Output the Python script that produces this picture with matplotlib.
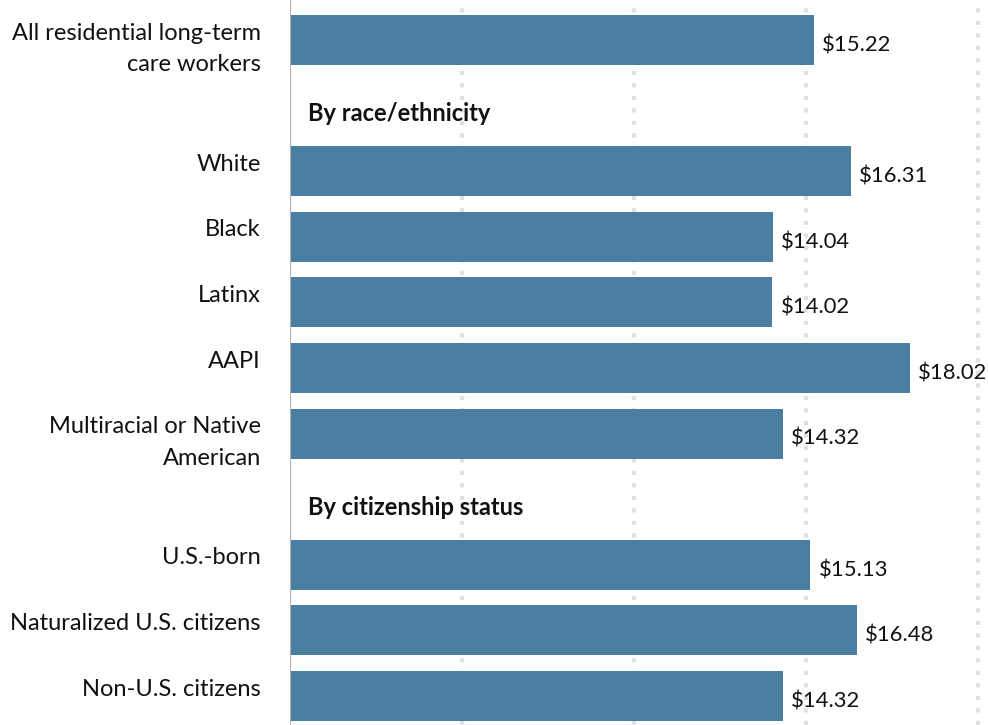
import matplotlib
matplotlib.use("Agg")
import matplotlib.pyplot as plt

plt.rcParams['font.family'] = ['Lato', 'DejaVu Sans']

# data
labels = ["All residential long-term\ncare workers",
          "White", "Black", "Latinx", "AAPI", "Multiracial or Native\nAmerican",
          "U.S.-born", "Naturalized U.S. citizens", "Non-U.S. citizens"]
wages = [15.22, 16.31, 14.04, 14.02, 18.02, 14.32, 15.13, 16.48, 14.32]
rows = [0, 2, 3, 4, 5, 6, 8, 9, 10]
headers = ["By race/ethnicity", "By citizenship status"]
header_rows = [1, 7]
grid_ticks = [5, 10, 15, 20]

bar_color = "#4a7fa1"

fig = plt.figure(figsize=(9.88, 7.25), dpi=100)
ax = fig.add_axes([290 / 988, 0, 1 - 290 / 988, 1])
ax.set_xlim(0, 698 / 34.4)
ax.set_ylim(10 + 29 / 65.6, -40 / 65.6)
ax.axis('off')

for g in grid_ticks:
    ax.axvline(g, color="#e0e0e0", lw=3, linestyle=(0, (1, 2)), zorder=0)
ax.axvline(0, color="#b0b0b0", lw=1.5, zorder=3)

ax.barh(rows, wages, height=0.76, color=bar_color, zorder=2)

fs = 17
for r, w, lab in zip(rows, wages, labels):
    ax.annotate(f"${w:.2f}", xy=(w, r), xytext=(6, -3.8), textcoords='offset points',
                ha='left', va='center', fontsize=15.8, color="#111111")
    ax.annotate(lab, xy=(0, r), xytext=(-21, 12.5), textcoords='offset points',
                ha='right', va='top', fontsize=fs, color="#111111", linespacing=1.62)

for r, h in zip(header_rows, headers):
    ax.annotate(h, xy=(0, r), xytext=(13, -5.8), textcoords='offset points',
                ha='left', va='center', fontsize=fs, fontweight='bold', color="#111111")

fig.savefig("out.png", dpi=100)
